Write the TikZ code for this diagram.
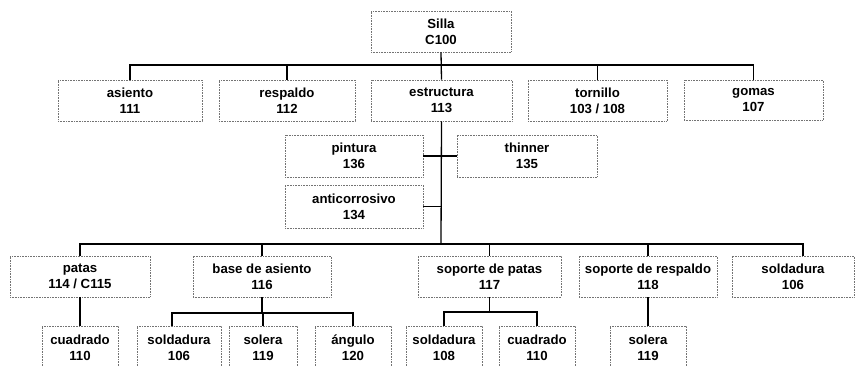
\documentclass[tikz,border=0pt]{standalone}
\usepackage{fontspec}
\setmainfont{Liberation Sans}
\begin{document}
\begin{tikzpicture}[x=1pt,y=-1pt,
  bx/.style={draw=black!55, densely dotted, line width=0.6pt, inner sep=0pt,
    align=center, font=\fontsize{13.2}{16}\selectfont\bfseries},
  cn/.style={draw=black, line width=1.3pt}]
\useasboundingbox (0,0) rectangle (868,365);
% level 0
\node[bx, minimum width=140, minimum height=41] (silla) at (441,31.5) {Silla\\C100};
% level 1
\node[bx, minimum width=144, minimum height=41] (asiento) at (130,100.5) {asiento\\111};
\node[bx, minimum width=136, minimum height=41] (respaldo) at (287,100.5) {respaldo\\112};
\node[bx, minimum width=141, minimum height=41] (estructura) at (441.5,100.5) {estructura\\113};
\node[bx, minimum width=139, minimum height=41] (tornillo) at (597.5,100.5) {tornillo\\103 / 108};
\node[bx, minimum width=139, minimum height=40] (gomas) at (753.5,100) {gomas\\107};
% level 2
\node[bx, minimum width=138, minimum height=42] (pintura) at (354,156) {pintura\\136};
\node[bx, minimum width=140, minimum height=42] (thinner) at (527,156) {thinner\\135};
\node[bx, minimum width=138, minimum height=43] (anticorr) at (354,206.5) {anticorrosivo\\134};
% level 3
\node[bx, minimum width=140, minimum height=41] (patas) at (80,276.5) {patas\\114 / C115};
\node[bx, minimum width=138, minimum height=41] (base) at (262,276.5) {base de asiento\\116};
\node[bx, minimum width=143, minimum height=41] (sopp) at (489.5,276.5) {soporte de patas\\117};
\node[bx, minimum width=138, minimum height=41] (sopr) at (648,276.5) {soporte de respaldo\\118};
\node[bx, minimum width=122, minimum height=41] (sold) at (793,276.5) {soldadura\\106};
% level 4
\node[bx, minimum width=76, minimum height=44] (cuadA) at (80,348) {cuadrado\\110};
\node[bx, minimum width=84, minimum height=44] (soldA) at (179,348) {soldadura\\106};
\node[bx, minimum width=68, minimum height=44] (solA) at (263,348) {solera\\119};
\node[bx, minimum width=76, minimum height=44] (ang) at (353,348) {ángulo\\120};
\node[bx, minimum width=76, minimum height=44] (soldB) at (444,348) {soldadura\\108};
\node[bx, minimum width=76, minimum height=44] (cuadB) at (537,348) {cuadrado\\110};
\node[bx, minimum width=76, minimum height=44] (solB) at (648,348) {solera\\119};
% bus coordinates
\coordinate (bus1) at (441,65);
\coordinate (bus3) at (441,244);
\coordinate (busA) at (263,313);
\coordinate (busB) at (491,312);
% connectors level 0-1
\draw[cn] (silla.south) -- (estructura.north);
\draw[cn] (asiento.north) |- (bus1) -| (gomas.north);
\draw[cn] (respaldo.north) -- (respaldo.north |- bus1);
\draw[cn] (tornillo.north) -- (tornillo.north |- bus1);
% level 2
\draw[cn] (estructura.south) -- (bus3);
\draw[cn] (pintura.east) -- (thinner.west);
\draw[cn] (anticorr.east) -- (anticorr.east -| estructura.south);
% level 3
\draw[cn] (patas.north) |- (bus3) -| ([xshift=10pt]sold.north);
\draw[cn] (base.north) -- (base.north |- bus3);
\draw[cn] (sopp.north) -- (sopp.north |- bus3);
\draw[cn] (sopr.north) -- (sopr.north |- bus3);
% level 4
\draw[cn] (patas.south) -- (cuadA.north);
\draw[cn] (base.south) -- (base.south |- busA);
\draw[cn] ([xshift=-7pt]soldA.north) |- (busA) -| (ang.north);
\draw[cn] (solA.north) -- (solA.north |- busA);
\draw[cn] (sopp.south) -- (sopp.south |- busB);
\draw[cn] (soldB.north) |- (busB) -| (cuadB.north);
\draw[cn] (sopr.south) -- (solB.north);
\end{tikzpicture}
\end{document}
